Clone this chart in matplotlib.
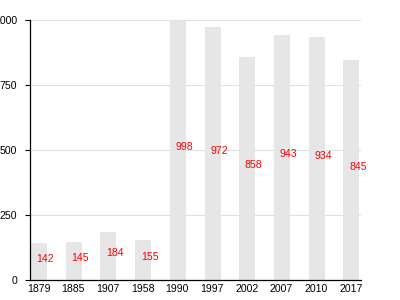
import matplotlib
matplotlib.use("Agg")
import matplotlib.pyplot as plt

years  = ["1879", "1885", "1907", "1958", "1990", "1997", "2002", "2007", "2010", "2017"]
values = [142, 145, 184, 155, 998, 972, 858, 943, 934, 845]
yticks = [0, 250, 500, 750, 1000]

plt.rcParams['font.family'] = ['Liberation Sans', 'DejaVu Sans']

fig = plt.figure(figsize=(4, 3), dpi=100)
ax = fig.add_axes([0.075, 0.0667, 0.8275, 0.8666])

pos = list(range(len(years)))
ax.bar(pos, values, width=0.43, color="#e6e6e6", edgecolor="#e0e0e0", linewidth=0.5, zorder=2)

for p, v in zip(pos, values):
    ax.annotate(str(v), (p, v / 2), xytext=(5, 0), textcoords="offset points",
                ha="center", va="baseline", color="#ff0000", fontsize=7.6, zorder=3)

ax.set_xlim(-0.245, 9.29)
ax.set_ylim(0, 1000)
ax.set_yticks(yticks)
ax.set_yticklabels([str(t) for t in yticks], fontsize=7.6)
ax.set_xticks(pos)
ax.set_xticklabels(years, fontsize=7.6)
ax.tick_params(axis="x", length=0, pad=3)
ax.tick_params(axis="y", length=3.6, width=0.8, pad=5.8)

ax.grid(axis="y", color="#e0e0e0", linewidth=0.8, zorder=0)
ax.set_axisbelow(True)
for s in ["top", "right"]:
    ax.spines[s].set_visible(False)
ax.spines["left"].set_linewidth(0.9)
ax.spines["bottom"].set_linewidth(0.9)

fig.savefig("out.png", dpi=100)
